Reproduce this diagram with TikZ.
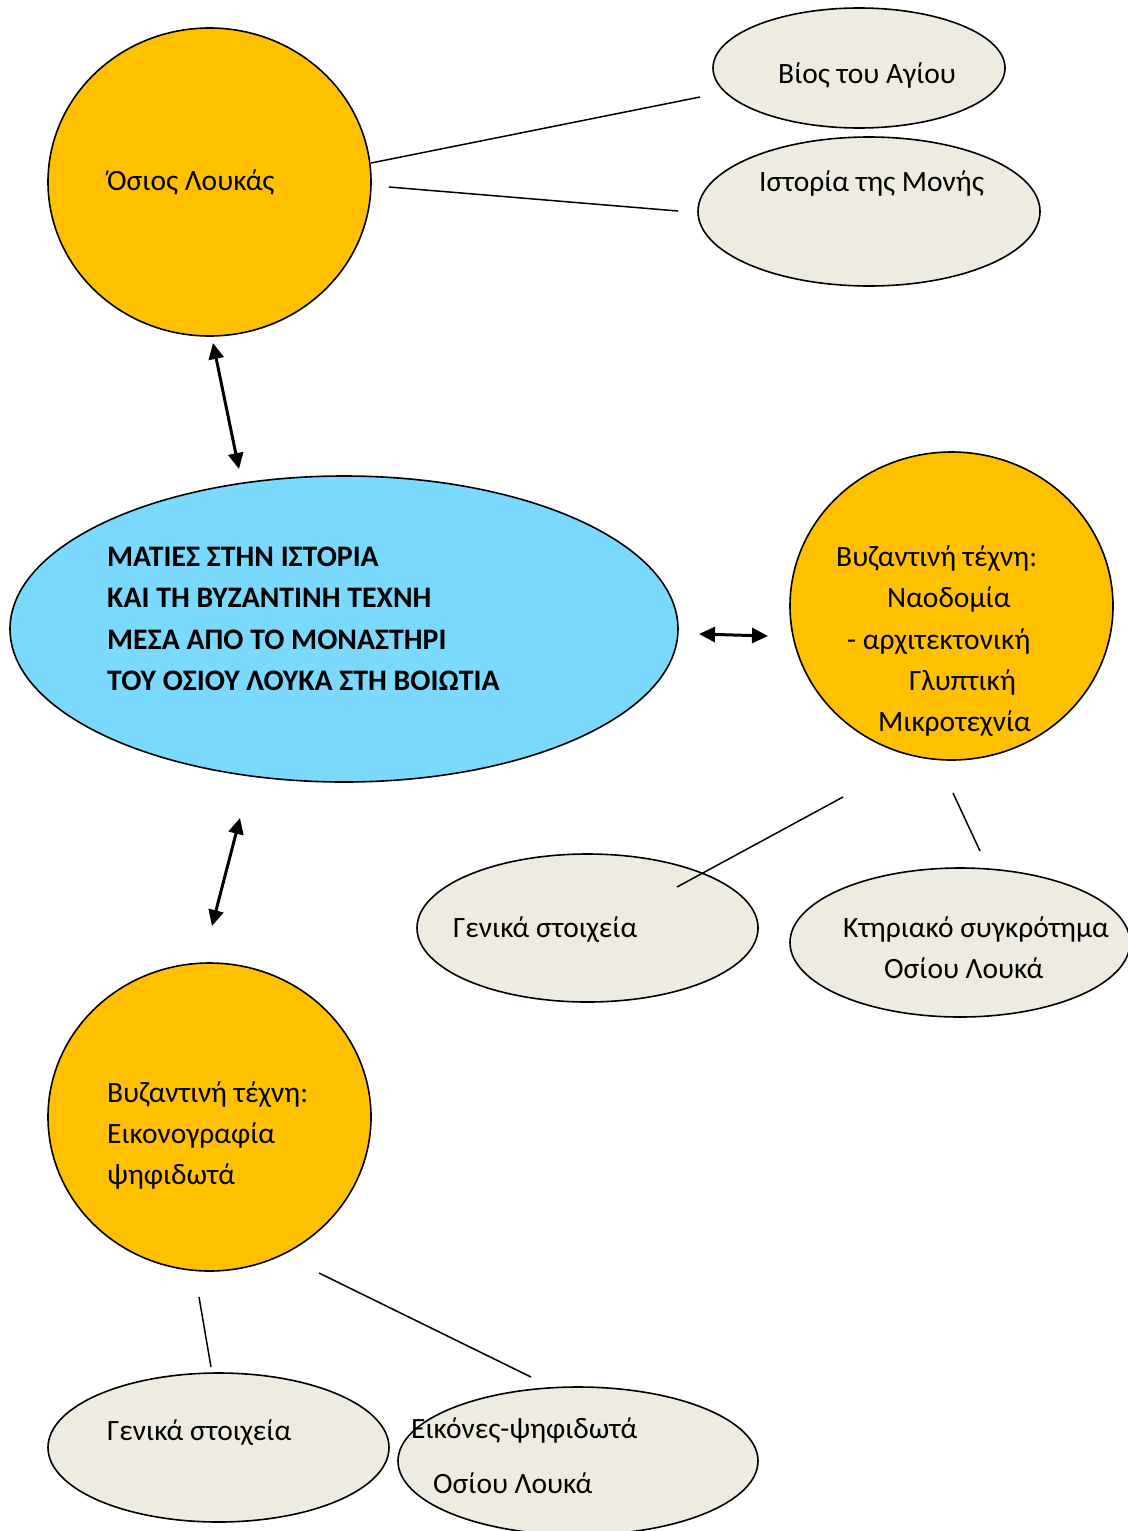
\documentclass[tikz,border=0pt]{standalone}
\usepackage{fontspec}
\setmainfont{Carlito}
\usetikzlibrary{shapes.geometric, arrows.meta}

\definecolor{goldorange}{HTML}{FFC000}
\definecolor{paleblue}{HTML}{7AD9FD}
\definecolor{beige}{HTML}{EEECE1}

\tikzstyle{orangebubble}=[ellipse, draw=black, line width=1.6pt,
                          fill=goldorange, inner sep=0, outer sep=0]
\tikzstyle{beigebubble}=[ellipse, draw=black, line width=1.6pt,
                         fill=beige, inner sep=0, outer sep=0]
\tikzstyle{bluebubble}=[ellipse, draw=black, line width=1.6pt,
                        fill=paleblue, inner sep=0, outer sep=0]
\tikzstyle{element}=[inner sep=0, anchor=base west,
                     font=\fontsize{29.5}{35}\selectfont]
\tikzstyle{link}=[line width=1.5pt]
\tikzstyle{twoway}=[{Triangle[length=16pt,width=15pt]}-{Triangle[length=16pt,width=15pt]},
                    line width=3pt]

\begin{document}
\begin{tikzpicture}[x=1pt, y=-1pt]
\useasboundingbox (0,0) rectangle (1127,1531);

%%%%%%%%%%%%%%%%%%
%%%%%%%%%%%%%%%%%%
\node (Hosios) at (209.5, 182) [orangebubble, minimum width=323pt, minimum height=308pt] {};

\node (Hosios_Text) at (107, 190) [element] {Όσιος Λουκάς};

\node (Bios) at (859, 68) [beigebubble, minimum width=292pt, minimum height=120pt] {};

\node (Bios_Text) at (778, 83) [element] {Βίος του Αγίου};

\node (Istoria) at (869, 211.5) [beigebubble, minimum width=342pt, minimum height=149pt] {};

\node (Istoria_Text) at (759, 191) [element] {Ιστορία της Μονής};

%%%%%%%%%%%%%%%%%%
\node (Main) at (344, 629) [bluebubble, minimum width=668pt, minimum height=306pt] {};

\node (Main_Line1) at (107, 566) [element, font=\fontsize{29.8}{35}\selectfont\bfseries] {ΜΑΤΙΕΣ ΣΤΗΝ ΙΣΤΟΡΙΑ};

\node (Main_Line2) at (107, 607) [element, font=\fontsize{29.8}{35}\selectfont\bfseries] {ΚΑΙ ΤΗ ΒΥΖΑΝΤΙΝΗ ΤΕΧΝΗ};

\node (Main_Line3) at (107, 649) [element, font=\fontsize{29.8}{35}\selectfont\bfseries] {ΜΕΣΑ ΑΠΟ ΤΟ ΜΟΝΑΣΤΗΡΙ};

\node (Main_Line4) at (107, 690) [element, font=\fontsize{29.8}{35}\selectfont\bfseries] {ΤΟΥ ΟΣΙΟΥ ΛΟΥΚΑ ΣΤΗ ΒΟΙΩΤΙΑ};

%%%%%%%%%%%%%%%%%%
\node (Naodomia) at (951.5, 606) [orangebubble, minimum width=323pt, minimum height=308pt] {};

\node (Naodomia_Line1) at (836, 566) [element] {Βυζαντινή τέχνη:};

\node (Naodomia_Line2) at (887, 607) [element] {Ναοδομία};

\node (Naodomia_Line3) at (847, 649) [element] {- αρχιτεκτονική};

\node (Naodomia_Line4) at (909, 690) [element] {Γλυπτική};

\node (Naodomia_Line5) at (878, 731) [element] {Μικροτεχνία};

\node (Genika_Right) at (587.5, 928) [beigebubble, minimum width=341pt, minimum height=148pt] {};

\node (Genika_Right_Text) at (453, 937) [element] {Γενικά στοιχεία};

\node (Ktiriako) at (960, 942.5) [beigebubble, minimum width=340pt, minimum height=149pt] {};

\node (Ktiriako_Line1) at (843, 937) [element] {Κτηριακό συγκρότημα};

\node (Ktiriako_Line2) at (884, 978) [element] {Οσίου Λουκά};

%%%%%%%%%%%%%%%%%%
\node (Eikonografia) at (209.5, 1117) [orangebubble, minimum width=323pt, minimum height=308pt] {};

\node (Eikonografia_Line1) at (107, 1102) [element] {Βυζαντινή τέχνη:};

\node (Eikonografia_Line2) at (107, 1143) [element] {Εικονογραφία};

\node (Eikonografia_Line3) at (107, 1184) [element] {ψηφιδωτά};

\node (Genika_Left) at (218.5, 1447.5) [beigebubble, minimum width=341pt, minimum height=149pt] {};

\node (Genika_Left_Text) at (107, 1440) [element] {Γενικά στοιχεία};

\node (Eikones) at (578, 1461) [beigebubble, minimum width=360pt, minimum height=148pt] {};

\node (Eikones_Line1) at (411, 1438) [element] {Εικόνες-ψηφιδωτά};

\node (Eikones_Line2) at (433, 1493) [element] {Οσίου Λουκά};

%%%%%%%%%%%%%%%%%%%%
%%%%%%%%%%%%%%%%%%%%
\coordinate (Hosios_out1) at (371, 163);
\coordinate (Bios_in) at (700, 97);
\coordinate (Hosios_out2) at (389, 187);
\coordinate (Istoria_in) at (678, 211);

\draw [link] (Hosios_out1) -- (Bios_in);

\draw [link] (Hosios_out2) -- (Istoria_in);

%%%%%%%%%%%%%%%%%%%%
\coordinate (Hosios_end) at (213, 343);
\coordinate (Main_top) at (239, 469);
\coordinate (Main_right) at (699, 634);
\coordinate (Naodomia_left) at (768, 636);
\coordinate (Main_bottom) at (240, 818);
\coordinate (Eikonografia_top) at (212, 926);

\draw [twoway] (Hosios_end) -- (Main_top);

\draw [twoway] (Main_right) -- (Naodomia_left);

\draw [twoway] (Main_bottom) -- (Eikonografia_top);

%%%%%%%%%%%%%%%%%%%%
\coordinate (Naodomia_out1) at (843, 797);
\coordinate (Genika_Right_in) at (677, 887);
\coordinate (Naodomia_out2) at (953, 793);
\coordinate (Ktiriako_in) at (980, 851);

\draw [link] (Naodomia_out1) -- (Genika_Right_in);

\draw [link] (Naodomia_out2) -- (Ktiriako_in);

%%%%%%%%%%%%%%%%%%%%
\coordinate (Eikonografia_out1) at (199, 1297);
\coordinate (Genika_Left_in) at (211, 1367);
\coordinate (Eikonografia_out2) at (319, 1273);
\coordinate (Eikones_in) at (531, 1377);

\draw [link] (Eikonografia_out1) -- (Genika_Left_in);

\draw [link] (Eikonografia_out2) -- (Eikones_in);

\end{tikzpicture}
\end{document}
